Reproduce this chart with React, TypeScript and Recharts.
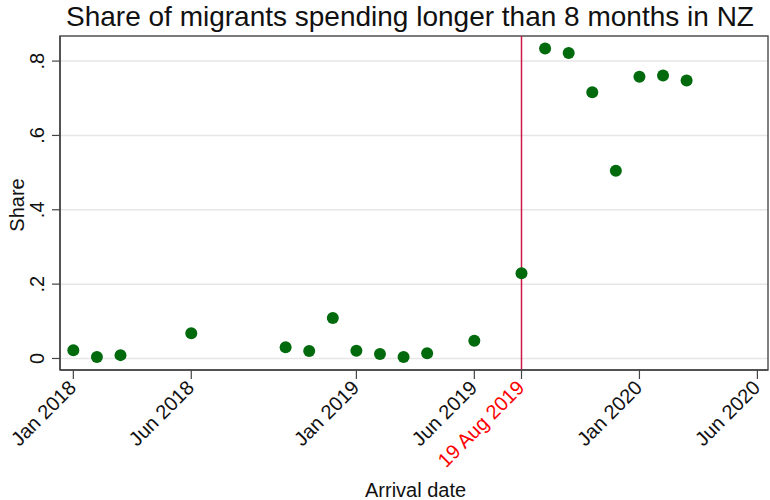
import { ScatterChart, Scatter, XAxis, YAxis, CartesianGrid, ReferenceLine, ReferenceArea } from "recharts";

const FONT = '"Liberation Sans", Arial, Helvetica, sans-serif';

// month index counted from Jan 2018 = 0
const monthLabels = [
  "Jan 2018", "Feb 2018", "Mar 2018", "Jun 2018", "Oct 2018", "Nov 2018", "Dec 2018",
  "Jan 2019", "Feb 2019", "Mar 2019", "Apr 2019", "Jun 2019", "Aug 2019", "Sep 2019",
  "Oct 2019", "Nov 2019", "Dec 2019", "Jan 2020", "Feb 2020", "Mar 2020",
];
const monthIndex = [0, 1, 2, 5, 9, 10, 11, 12, 13, 14, 15, 17, 19, 20, 21, 22, 23, 24, 25, 26];
const shareValues = [
  0.022, 0.004, 0.009, 0.068, 0.03, 0.02, 0.109, 0.021, 0.012, 0.004, 0.014, 0.048, 0.229,
  0.834, 0.822, 0.716, 0.505, 0.758, 0.761, 0.748,
];

const xTickValues = [0, 5, 12, 17, 19, 24, 29];
const xTickLabels = ["Jan 2018", "Jun 2018", "Jan 2019", "Jun 2019", "19 Aug 2019", "Jan 2020", "Jun 2020"];
const yTickValues = [0, 0.2, 0.4, 0.6, 0.8];
const yTickLabels = ["0", ".2", ".4", ".6", ".8"];
const cutoffMonth = 19;

const xDomain = [-0.565, 29.45];
const yDomain = [-0.031, 0.8675];

const data = monthIndex.map((m, i) => ({ month: m, share: shareValues[i], label: monthLabels[i] }));

const XTick = (props: any) => {
  const { x, y, payload } = props;
  const i = xTickValues.indexOf(payload.value);
  const tx = x + 4;
  const ty = y + 8;
  return (
    <text
      x={tx}
      y={ty}
      transform={`rotate(-45, ${tx}, ${ty})`}
      textAnchor="end"
      fontSize={20}
      fontFamily={FONT}
      fill={payload.value === cutoffMonth ? "#ff0000" : "#111"}
    >
      {xTickLabels[i]}
    </text>
  );
};

const YTick = (props: any) => {
  const { x, y, payload } = props;
  const i = yTickValues.indexOf(payload.value);
  const tx = x - 6;
  return (
    <text
      x={tx}
      y={y}
      transform={`rotate(-90, ${tx}, ${y})`}
      textAnchor="middle"
      fontSize={20}
      fontFamily={FONT}
      fill="#111"
    >
      {yTickLabels[i]}
    </text>
  );
};

const Dot = (props: any) => <circle cx={props.cx} cy={props.cy} r={6} fill="#006a0c" />;

export default function App() {
  return (
    <div style={{ position: "absolute", left: 0, top: 0, width: 770, height: 500, background: "#fff", fontFamily: FONT }}>
      <div
        style={{
          position: "absolute",
          left: 56,
          top: 3,
          width: 708,
          fontSize: 28,
          lineHeight: "28px",
          textAlign: "center",
          color: "#111",
          whiteSpace: "nowrap",
        }}
      >
        Share of migrants spending longer than 8 months in NZ
      </div>
      <div
        style={{
          position: "absolute",
          left: -33,
          top: 194.5,
          width: 100,
          height: 20,
          fontSize: 20,
          lineHeight: "20px",
          textAlign: "center",
          color: "#111",
          transform: "rotate(-90deg)",
        }}
      >
        Share
      </div>
      <div
        style={{
          position: "absolute",
          left: 365,
          top: 480,
          width: 100,
          fontSize: 20,
          lineHeight: "20px",
          textAlign: "center",
          color: "#111",
          whiteSpace: "nowrap",
        }}
      >
        Arrival date
      </div>
      <ScatterChart width={770} height={500} margin={{ top: 36, right: 2, left: 0, bottom: 0 }}>
        <CartesianGrid vertical={false} stroke="#e6e6e6" strokeWidth={1.5} />
        <XAxis
          type="number"
          dataKey="month"
          domain={xDomain}
          allowDataOverflow
          ticks={xTickValues}
          interval={0}
          tick={<XTick />}
          tickSize={9}
          height={130}
          axisLine={{ stroke: "#444", strokeWidth: 1.5 }}
          tickLine={{ stroke: "#444", strokeWidth: 1.2 }}
        />
        <YAxis
          type="number"
          dataKey="share"
          domain={yDomain}
          allowDataOverflow
          ticks={yTickValues}
          interval={0}
          tick={<YTick />}
          tickSize={8}
          width={60}
          axisLine={{ stroke: "#444", strokeWidth: 1.5 }}
          tickLine={{ stroke: "#444", strokeWidth: 1.2 }}
        />
        <ReferenceArea
          x1={xDomain[0]}
          x2={xDomain[1]}
          y1={yDomain[0]}
          y2={yDomain[1]}
          fill="none"
          stroke="#555"
          strokeWidth={1.5}
        />
        <ReferenceLine x={cutoffMonth} stroke="#cf1847" strokeWidth={1.5} />
        <Scatter data={data} shape={<Dot />} isAnimationActive={false} />
      </ScatterChart>
    </div>
  );
}
